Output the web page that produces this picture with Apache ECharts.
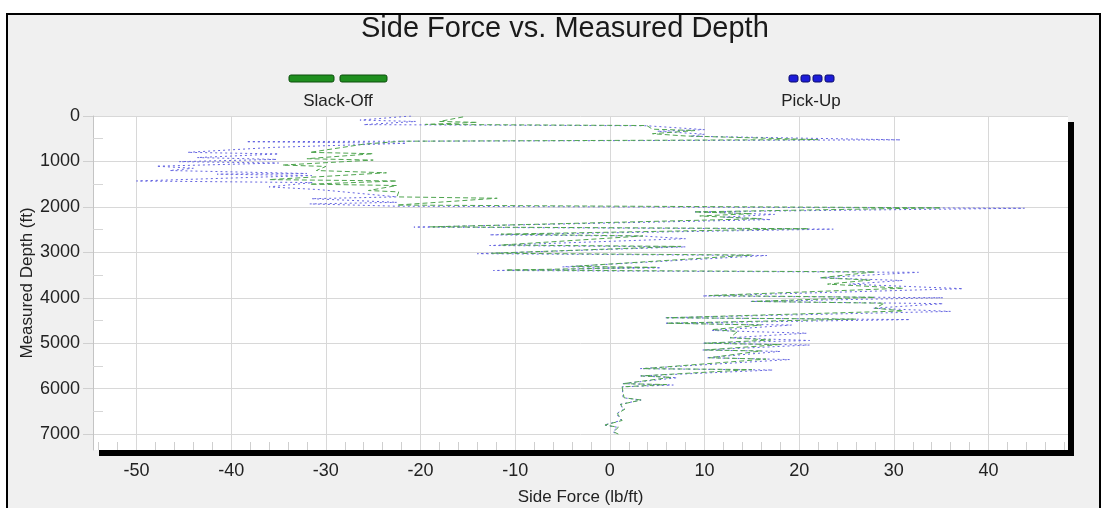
<!DOCTYPE html>
<html>
<head>
<meta charset="utf-8">
<script src="https://cdn.jsdelivr.net/npm/echarts@6/dist/echarts.min.js"></script>
<style>
  html, body { margin: 0; padding: 0; background: #ffffff; }
  #chart { width: 1105px; height: 508px; }
</style>
</head>
<body>
<div id="chart"></div>
<script>
// Side force (lb/ft) against measured depth (ft) for the two load cases
const pickUpForce = [
  -21, -26.4, -20.5, -26, 3.9, 10, 5, 10, 8.5, 30.7,
  -38.4, -21.5, -35.5, -44.6, -35, -43.6, -35.2, -45.5, -35, -47.9,
  -44, -46.5, -32, -41.5, -31.5, -50, -31.4, -36, -30.7, -22.5,
  -31.5, -22.5, -31.7, -22.5, 43.8, 9, 17.4, 12, 17, -20.7,
  23.6, -12.7, 3.7, 8, -12.7, 8, -14, 16.6, -5, 5.4,
  -12.3, 32.6, 22.2, 30.9, 25.3, 37.3, 9.8, 35.2, 14.9, 35.2,
  27.8, 36, 5.8, 31.7, 5.8, 19.2, 10.8, 20.8, 12.7, 21.1,
  9.8, 21.1, 9.8, 18, 10.2, 19, 3.2, 17.2, 3.2, 7.1,
  1.3, 6.7, 1.3, 1.4, 3.3, 1.0, 1.5, 0.7, 1.2, -0.6,
  0.8, 0.3, 0.8
];
const pickUpDepth = [
  0, 90, 120, 190, 215, 300, 335, 400, 445, 525,
  565, 600, 690, 800, 835, 915, 955, 1005, 1035, 1105,
  1150, 1200, 1265, 1280, 1310, 1430, 1465, 1560, 1620, 1780,
  1820, 1900, 1935, 1985, 2030, 2110, 2165, 2225, 2280, 2445,
  2490, 2615, 2645, 2700, 2850, 2880, 3030, 3070, 3320, 3340,
  3400, 3440, 3560, 3620, 3700, 3800, 3960, 4000, 4080, 4130,
  4230, 4300, 4440, 4480, 4560, 4600, 4720, 4780, 4880, 4940,
  5000, 5040, 5150, 5180, 5320, 5360, 5560, 5590, 5720, 5760,
  5890, 5920, 5960, 6200, 6250, 6350, 6450, 6550, 6700, 6800,
  6850, 6950, 7000
];

const slackOffForce = [
  -15.5, -18, -14, -19.5, 3.9, 4.5, 9, 4.5, 8, 22,
  -22, -26, -31.7, -25, -32, -25, -34.6, -30, -31, -23.6,
  -36, -22.5, -31.7, -22.5, -25.5, -22.3, -22.5, -11.9, -22.5, 35,
  8.9, 15, 9.5, 16, -19, 21, -11.5, 3.5, -11.5, 7.5,
  -12.5, 15, -4, 5, -11, 28, 22.2, 27.5, 23, 31,
  10.5, 28, 15, 29, 28, 31, 6, 26, 6, 16,
  10.8, 13.5, 12.7, 17, 10, 18, 10, 16, 10.5, 16.5,
  3.5, 15, 3.3, 6.5, 1.4, 6, 1.3, 1.5, 3.3, 1.1,
  1.6, 0.8, 1.3, -0.5, 0.9, 0.4, 0.9
];
const slackOffDepth = [
  20, 120, 140, 185, 210, 290, 320, 390, 440, 520,
  555, 620, 800, 830, 940, 970, 1080, 1110, 1200, 1250,
  1400, 1430, 1500, 1530, 1640, 1670, 1780, 1810, 1960, 2020,
  2110, 2150, 2200, 2260, 2440, 2480, 2600, 2640, 2840, 2870,
  3020, 3060, 3310, 3330, 3390, 3430, 3560, 3610, 3700, 3790,
  3950, 3990, 4080, 4120, 4230, 4290, 4440, 4470, 4560, 4600,
  4700, 4740, 4880, 4930, 5000, 5030, 5150, 5170, 5320, 5350,
  5560, 5580, 5720, 5750, 5890, 5910, 5960, 6200, 6250, 6350,
  6450, 6550, 6700, 6800, 6850, 6950, 7000
];

// Axis tick labels
const forceTicks = [-50, -40, -30, -20, -10, 0, 10, 20, 30, 40];
const depthTicks = [0, 1000, 2000, 3000, 4000, 5000, 6000, 7000];
const forceMinorTicks = [];
for (let v = -54; v <= 48; v += 2) if (v % 10 !== 0) forceMinorTicks.push(v);
const depthMinorTicks = [];
for (let v = 500; v < 7350; v += 1000) depthMinorTicks.push(v);

const FORCE_MIN = -54.6, FORCE_MAX = 48.4;
const DEPTH_MIN = 0, DEPTH_MAX = 7350;
const FONT = "'Liberation Sans', Arial, sans-serif";

const pickUpData = pickUpForce.map((f, i) => [f, pickUpDepth[i]]);
const slackOffData = slackOffForce.map((f, i) => [f, slackOffDepth[i]]);

const plainNumber = (v) => String(v);

const chart = echarts.init(document.getElementById('chart'), null, { renderer: 'canvas' });

chart.setOption({
  animation: false,
  backgroundColor: '#ffffff',
  textStyle: { fontFamily: FONT },
  title: {
    text: 'Side Force vs. Measured Depth',
    left: 356,
    top: 9,
    textStyle: { fontFamily: FONT, fontSize: 29, fontWeight: 'normal', color: '#1a1a1a' }
  },
  grid: {
    left: 93, top: 116, width: 975, height: 334,
    outerBoundsMode: 'none',
    containLabel: false,
    show: true,
    backgroundColor: '#ffffff',
    borderWidth: 0,
    shadowColor: '#000000',
    shadowOffsetX: 6,
    shadowOffsetY: 6,
    shadowBlur: 0
  },
  xAxis: [
    {
      type: 'value', min: FORCE_MIN, max: FORCE_MAX, position: 'bottom',
      axisLine: { show: false, onZero: false },
      axisTick: { show: false, customValues: forceTicks },
      axisLabel: { customValues: forceTicks, margin: 12, fontSize: 18, color: '#222',
                   fontFamily: FONT, formatter: plainNumber },
      splitLine: { show: true, lineStyle: { color: '#d8d8d8', width: 1 } },
      name: 'Side Force (lb/ft)', nameLocation: 'middle', nameGap: 39, nameMoveOverlap: false,
      nameTextStyle: { fontSize: 17, color: '#222', fontFamily: FONT }
    },
    {
      type: 'value', min: FORCE_MIN, max: FORCE_MAX, position: 'bottom',
      axisLine: { show: false, onZero: false },
      axisLabel: { show: false },
      splitLine: { show: false },
      axisTick: { show: true, inside: true, length: 8, customValues: forceMinorTicks,
                  lineStyle: { color: '#cfcfcf', width: 1 } }
    }
  ],
  yAxis: [
    {
      type: 'value', inverse: true, min: DEPTH_MIN, max: DEPTH_MAX, position: 'left',
      axisLine: { show: true, onZero: false, lineStyle: { color: '#c4c4c4', width: 1 } },
      axisTick: { show: true, length: 10, customValues: depthTicks, lineStyle: { color: '#d0d0d0' } },
      axisLabel: { customValues: depthTicks, margin: 13, fontSize: 18, color: '#222',
                   fontFamily: FONT, formatter: plainNumber },
      splitLine: { show: true, lineStyle: { color: '#d8d8d8', width: 1 } },
      name: 'Measured Depth (ft)', nameLocation: 'middle', nameGap: 57, nameRotate: 90,
      nameMoveOverlap: false,
      nameTextStyle: { fontSize: 17, color: '#222', fontFamily: FONT }
    },
    {
      type: 'value', inverse: true, min: DEPTH_MIN, max: DEPTH_MAX, position: 'left',
      axisLine: { show: false, onZero: false },
      axisLabel: { show: false },
      splitLine: { show: false },
      axisTick: { show: true, inside: true, length: 10, customValues: depthMinorTicks,
                  lineStyle: { color: '#d6d6d6', width: 1 } }
    }
  ],
  graphic: [
    // panel frame
    {
      type: 'rect', z: -10, silent: true,
      shape: { x: 7, y: 14, width: 1093, height: 500 },
      style: { fill: '#f0f0f0', stroke: '#000000', lineWidth: 2 }
    },
    // Slack-Off key
    { type: 'rect', shape: { x: 289, y: 75, width: 45, height: 7, r: 2 },
      style: { fill: '#1f8f1f', stroke: '#0c4f0c', lineWidth: 1 } },
    { type: 'rect', shape: { x: 340, y: 75, width: 47, height: 7, r: 2 },
      style: { fill: '#1f8f1f', stroke: '#0c4f0c', lineWidth: 1 } },
    { type: 'text', x: 338, y: 101,
      style: { text: 'Slack-Off', fontSize: 17, fontFamily: FONT, fill: '#222', align: 'center', verticalAlign: 'middle' } },
    // Pick-Up key
    { type: 'rect', shape: { x: 789, y: 75, width: 9, height: 7, r: 2 },
      style: { fill: '#1c1cd8', stroke: '#0b0b6e', lineWidth: 1 } },
    { type: 'rect', shape: { x: 801, y: 75, width: 9, height: 7, r: 2 },
      style: { fill: '#1c1cd8', stroke: '#0b0b6e', lineWidth: 1 } },
    { type: 'rect', shape: { x: 813, y: 75, width: 9, height: 7, r: 2 },
      style: { fill: '#1c1cd8', stroke: '#0b0b6e', lineWidth: 1 } },
    { type: 'rect', shape: { x: 825, y: 75, width: 9, height: 7, r: 2 },
      style: { fill: '#1c1cd8', stroke: '#0b0b6e', lineWidth: 1 } },
    { type: 'text', x: 811, y: 101,
      style: { text: 'Pick-Up', fontSize: 17, fontFamily: FONT, fill: '#222', align: 'center', verticalAlign: 'middle' } }
  ],
  series: [
    {
      name: 'Pick-Up', type: 'line', xAxisIndex: 0, yAxisIndex: 0,
      data: pickUpData, symbol: 'none', showSymbol: false, clip: true,
      lineStyle: { color: '#6464e0', width: 1, type: [2, 3] },
      z: 2
    },
    {
      name: 'Slack-Off', type: 'line', xAxisIndex: 0, yAxisIndex: 0,
      data: slackOffData, symbol: 'none', showSymbol: false, clip: true,
      lineStyle: { color: '#4fa44f', width: 1, type: [5, 3] },
      z: 3
    }
  ]
});
</script>
</body>
</html>
